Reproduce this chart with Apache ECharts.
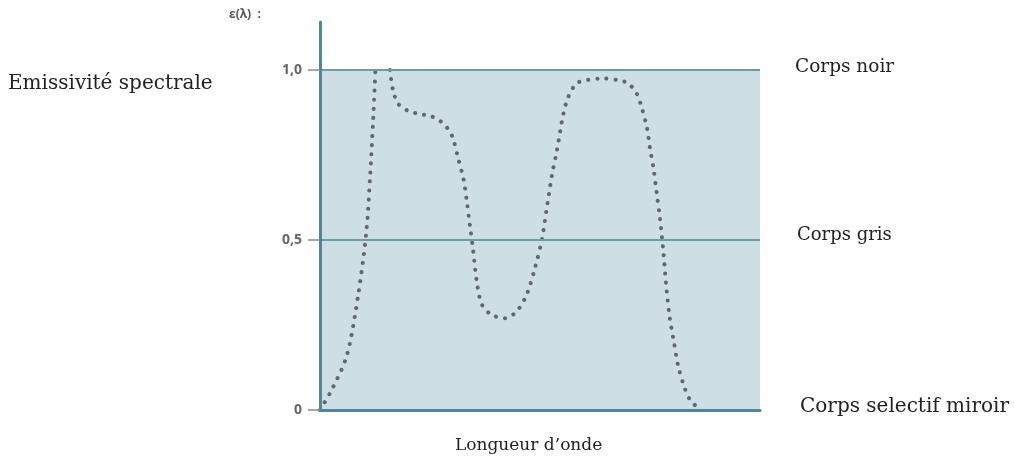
<!DOCTYPE html>
<html>
<head>
<meta charset="utf-8">
<script src="https://cdn.jsdelivr.net/npm/echarts@6/dist/echarts.min.js"></script>
<style>
  html, body { margin: 0; padding: 0; background: #fff; }
  #main { width: 1014px; height: 473px; }
</style>
</head>
<body>
<div id="main"></div>
<script>
// longueur d'onde (unités arbitraires, 0..100) et émissivité
var lambda = [0, 2.7, 6.1, 8.7, 10.5, 11.4, 12.1, 12.6, 14.2,
    15.9, 16.6, 17.8, 20, 22.7, 25, 27.3, 28.9, 30.2, 31.4, 32.6, 33.3, 34.1, 34.8, 35.6, 36.8,
    39, 42, 44.7, 47, 48.9, 50.4, 51.5, 52.7, 53.8, 55.3, 56.4, 58.3, 60.6, 64.1, 67.8, 70.1,
    72, 73.1, 74.3, 75, 75.8, 76.5, 77.3, 78, 78.8, 79.5, 80.3, 81.4, 83, 84.1, 86.4];
var emissivite = [0, 0.06, 0.16, 0.34, 0.52, 0.69, 0.86, 1.0, null,
    1.0, 0.94, 0.9, 0.88, 0.87, 0.865, 0.85, 0.83, 0.8, 0.74, 0.68, 0.62, 0.54, 0.47, 0.38, 0.31,
    0.28, 0.27, 0.29, 0.34, 0.42, 0.5, 0.59, 0.69, 0.76, 0.87, 0.92, 0.96, 0.97, 0.975, 0.97, 0.96,
    0.93, 0.89, 0.83, 0.77, 0.71, 0.64, 0.56, 0.47, 0.35, 0.27, 0.21, 0.13, 0.06, 0.03, 0];
var yTicks = [0, 0.5, 1];
var niveaux = [1, 0.5]; // corps noir, corps gris

var chart = echarts.init(document.getElementById('main'));

var serie = [];
for (var i = 0; i < lambda.length; i++) {
    serie.push([lambda[i], emissivite[i]]);
}

var serif = '"DejaVu Serif", "Liberation Serif", serif';

chart.setOption({
    animation: false,
    grid: { left: 320, right: 254, top: 22, bottom: 63 },
    xAxis: {
        type: 'value', min: 0, max: 100, z: 5,
        axisLine: { show: true, lineStyle: { color: '#4f8893', width: 3 } },
        axisTick: { show: false },
        axisLabel: { show: false },
        splitLine: { show: false }
    },
    yAxis: {
        type: 'value', min: 0, max: 1.141, z: 5,
        axisLine: { show: true, lineStyle: { color: '#4f8893', width: 3 } },
        axisTick: { show: true, length: 12, customValues: yTicks, lineStyle: { color: '#8a8a8a', width: 1.5 } },
        axisLabel: {
            customValues: yTicks, margin: 18,
            color: '#666', fontSize: 14, fontWeight: 'bold', fontFamily: '"Open Sans", sans-serif',
            formatter: function (v) {
                return v === 0 ? '0' : v.toFixed(1).replace('.', ',');
            }
        },
        splitLine: { show: false }
    },
    series: [{
        type: 'line',
        data: serie,
        smooth: 0.3,
        connectNulls: false,
        showSymbol: false,
        z: 4,
        lineStyle: { color: '#62666e', width: 4, type: [0.1, 9], cap: 'round' },
        markArea: {
            silent: true,
            itemStyle: { color: '#cddfe4' },
            data: [[{ xAxis: 0, yAxis: 0 }, { xAxis: 100, yAxis: 1 }]]
        },
        markLine: {
            silent: true,
            symbol: 'none',
            label: { show: false },
            lineStyle: { color: '#6a9fa9', width: 2, type: 'solid' },
            data: niveaux.map(function (v) { return { yAxis: v }; })
        }
    }],
    graphic: [
        { type: 'text', left: 229, top: 9, style: { text: 'ε(λ)  :', fill: '#555', font: 'bold 12px "Open Sans", sans-serif' } },
        { type: 'text', left: 8, top: 74, style: { text: 'Emissivité spectrale', fill: '#222', font: '20px ' + serif } },
        { type: 'text', left: 795, top: 58, style: { text: 'Corps noir', fill: '#222', font: '18.5px ' + serif } },
        { type: 'text', left: 797, top: 226, style: { text: 'Corps gris', fill: '#222', font: '18px ' + serif } },
        { type: 'text', left: 800, top: 397, style: { text: 'Corps selectif miroir', fill: '#222', font: '20px ' + serif } },
        { type: 'text', left: 455, top: 437, style: { text: 'Longueur d’onde', fill: '#222', font: '17px ' + serif } }
    ]
});
</script>
</body>
</html>
